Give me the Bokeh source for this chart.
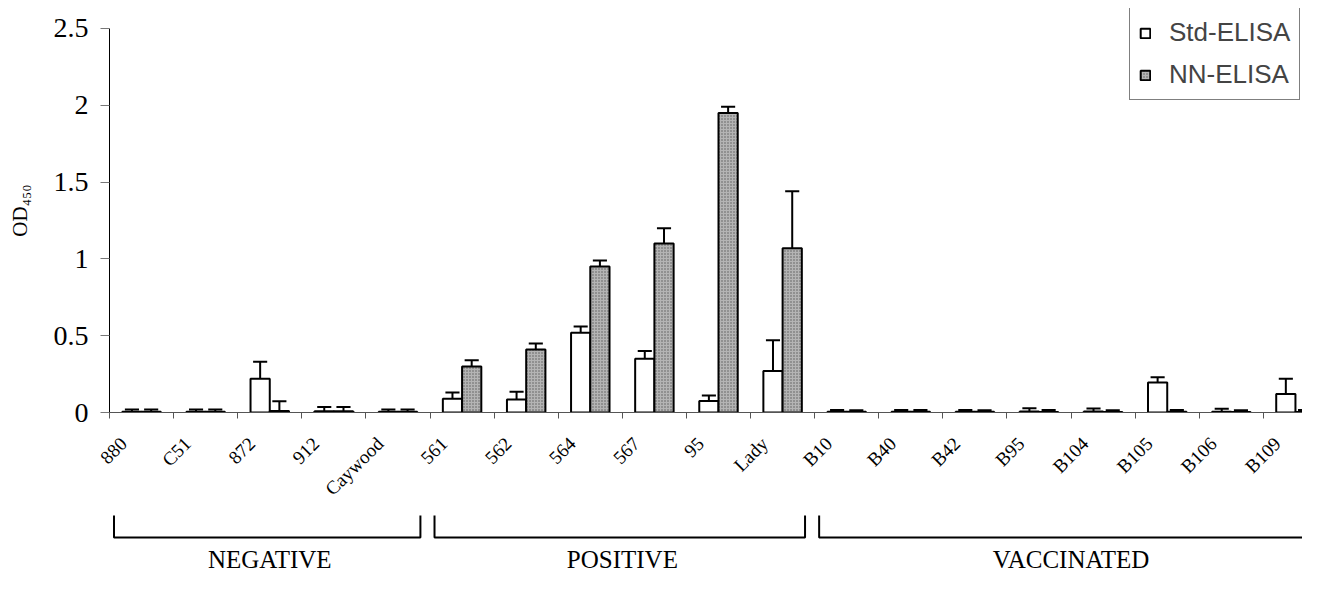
import numpy as np
from bokeh.plotting import figure
from bokeh.layouts import column
from bokeh.models import FixedTicker, Range1d, Legend, LegendItem, ColumnDataSource
from bokeh.core.properties import value
from bokeh.embed import file_html
from bokeh.resources import INLINE

categories = ["880", "C51", "872", "912", "Caywood", "561", "562", "564", "567", "95",
              "Lady", "B10", "B40", "B42", "B95", "B104", "B105", "B106", "B109"]
std_elisa = [0.005, 0.005, 0.22, 0.008, 0.005, 0.09, 0.085, 0.52, 0.35, 0.075,
             0.27, 0.005, 0.005, 0.005, 0.006, 0.006, 0.195, 0.005, 0.12]
std_err = [0.015, 0.015, 0.11, 0.027, 0.015, 0.04, 0.05, 0.04, 0.05, 0.035,
           0.20, 0.012, 0.012, 0.012, 0.022, 0.02, 0.035, 0.02, 0.10]
nn_elisa = [0.005, 0.005, 0.01, 0.008, 0.005, 0.30, 0.41, 0.95, 1.10, 1.95,
            1.07, 0.005, 0.005, 0.005, 0.004, 0.004, 0.005, 0.004, 0.004]
nn_err = [0.015, 0.015, 0.063, 0.027, 0.015, 0.04, 0.04, 0.04, 0.10, 0.04,
          0.37, 0.01, 0.012, 0.01, 0.012, 0.01, 0.012, 0.01, 0.012]
y_ticks = [0, 0.5, 1, 1.5, 2, 2.5]
y_tick_labels = ["0", "0.5", "1", "1.5", "2", "2.5"]
y_title = "OD\u2084\u2085\u2080"
group_names = ["NEGATIVE", "POSITIVE", "VACCINATED"]
group_first = [0, 5, 11]
group_last = [4, 10, 18]

SERIF = "Liberation Serif"
SANS = "Liberation Sans"
BAR_W = 0.3
CAP = 0.11
LABEL_SHIFT = 0.28

n = len(categories)
centers = np.arange(n) + 0.5
x_std = centers - BAR_W / 2
x_nn = centers + BAR_W / 2

xr = Range1d(0, 18.61)
p = figure(width=1302, height=512, x_range=xr, y_range=Range1d(0, 2.6302),
           output_backend="svg", toolbar_location=None,
           min_border_left=109, min_border_right=0, min_border_top=8, min_border_bottom=100)
p.outline_line_color = None
p.grid.visible = False
p.background_fill_color = "white"
p.border_fill_color = "white"

src = ColumnDataSource(dict(
    xs=x_std, xn=x_nn, std=std_elisa, nn=nn_elisa,
    std_top=np.array(std_elisa) + np.array(std_err),
    nn_top=np.array(nn_elisa) + np.array(nn_err),
    xs0=x_std - CAP, xs1=x_std + CAP, xn0=x_nn - CAP, xn1=x_nn + CAP,
))

# error bars (upper only)
for xk, vk, tk, c0, c1 in [("xs", "std", "std_top", "xs0", "xs1"), ("xn", "nn", "nn_top", "xn0", "xn1")]:
    p.segment(x0=xk, y0=vk, x1=xk, y1=tk, source=src, line_color="black", line_width=2)
    p.segment(x0=c0, y0=tk, x1=c1, y1=tk, source=src, line_color="black", line_width=2)

r_std = p.vbar(x="xs", top="std", bottom=0, width=BAR_W, source=src,
               fill_color="white", line_color="black", line_width=2)
r_nn = p.vbar(x="xn", top="nn", bottom=0, width=BAR_W, source=src,
              fill_color="#b4b4b4", line_color="black", line_width=2,
              hatch_pattern="dot", hatch_color="#5a5a5a", hatch_scale=3, hatch_weight=1)

# axes
yax = p.yaxis[0]
yax.ticker = FixedTicker(ticks=y_ticks)
yax.bounds = (0, 2.5)
yax.major_label_overrides = {t: l for t, l in zip(y_ticks, y_tick_labels)}
yax.major_label_text_font = SERIF
yax.major_label_text_font_size = "28px"
yax.major_label_text_color = "black"
yax.major_tick_out = 9
yax.major_tick_in = 0
yax.major_tick_line_color = "#777777"
yax.minor_tick_line_color = None
yax.axis_line_color = "black"
yax.major_label_standoff = 12
yax.axis_label = y_title
yax.axis_label_text_font = SERIF
yax.axis_label_text_font_size = "21px"
yax.axis_label_text_font_style = "normal"
yax.axis_label_text_color = "black"
yax.axis_label_standoff = 19

xax = p.xaxis[0]
label_pos = centers - LABEL_SHIFT
xax.ticker = FixedTicker(ticks=list(label_pos), minor_ticks=list(range(n + 1)))
xax.major_label_overrides = {float(c): lab for c, lab in zip(label_pos, categories)}
xax.major_label_orientation = np.pi / 4
xax.major_label_text_font = SERIF
xax.major_label_text_font_size = "19px"
xax.major_label_text_color = "black"
xax.major_tick_line_color = None
xax.minor_tick_out = 6
xax.minor_tick_in = 0
xax.minor_tick_line_color = "#555555"
xax.axis_line_color = "#555555"
xax.major_label_standoff = 22

legend = Legend(items=[LegendItem(label="Std-ELISA", renderers=[r_std]),
                       LegendItem(label="NN-ELISA", renderers=[r_nn])],
                location=(1020, 312), orientation="vertical",
                label_text_font=SANS, label_text_font_size="26px",
                glyph_width=12, glyph_height=12, label_standoff=18,
                label_height=30, spacing=11, padding=9, margin=0,
                border_line_color="black", border_line_width=1,
                background_fill_color="white", background_fill_alpha=1)
p.add_layout(legend, "center")

# group brackets
q = figure(width=1302, height=64, x_range=xr, y_range=Range1d(0, 64),
           output_backend="svg", toolbar_location=None, x_axis_type=None, y_axis_type=None,
           min_border_left=109, min_border_right=0, min_border_top=0, min_border_bottom=0)
q.outline_line_color = None
q.grid.visible = False
gx0 = np.array(group_first) + 0.07
gx1 = np.array(group_last) + 1 - 0.15
gsrc = ColumnDataSource(dict(
    xs=[[a, a, b, b] for a, b in zip(gx0, gx1)],
    ys=[[61, 39, 39, 61] for _ in group_names],
    xm=(np.array(group_first) + np.array(group_last) + 1) / 2,
    name=group_names,
))
q.multi_line(xs="xs", ys="ys", source=gsrc, line_color="black", line_width=2)
q.text(x="xm", y=17, text="name", source=gsrc, text_font=value(SERIF), text_font_size="25px",
       text_align="center", text_baseline="middle", text_color="black")

layout = column(p, q, spacing=0)
open("out.html", "w").write(file_html(layout, INLINE))
